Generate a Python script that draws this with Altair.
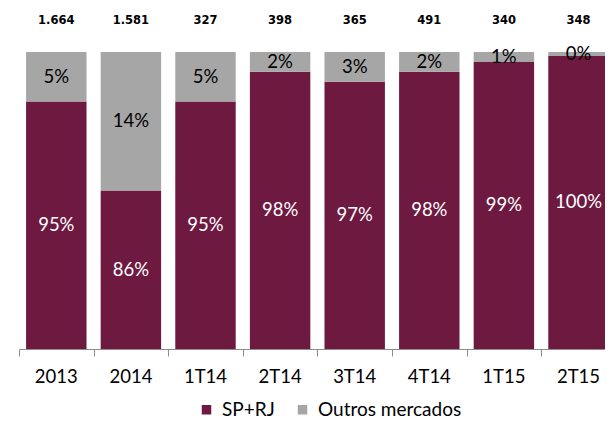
import altair as alt
import pandas as pd

categories = ["2013", "2014", "1T14", "2T14", "3T14", "4T14", "1T15", "2T15"]
sp_rj = [95, 86, 95, 98, 97, 98, 99, 99.6]
outros = [5, 14, 5, 2, 3, 2, 1, 0.4]
totals = ["1.664", "1.581", "327", "398", "365", "491", "340", "348"]
series = ["SP+RJ", "Outros mercados"]
colors = ["#6E1940", "#A6A6A6"]

BASE = 70
GAP = 0.095  # half of the gap between bars, as a share of one category slot
rows = []
for i, (c, a, b, t) in enumerate(zip(categories, sp_rj, outros, totals)):
    rows.append({"idx": i, "cat": c, "serie": series[0], "y0": BASE, "y1": a, "val": a,
                 "mid": (BASE + a) / 2, "total": t})
    rows.append({"idx": i, "cat": c, "serie": series[1], "y0": a, "y1": 100, "val": b,
                 "mid": (a + 100) / 2, "total": t})
df = pd.DataFrame(rows)
df["label"] = df["val"].round(0).astype(int).astype(str) + "%"

PLOT_W = 586
STEP = 74.6
xscale = alt.Scale(domain=[0, PLOT_W / STEP], nice=False, zero=False)
yscale = alt.Scale(domain=[BASE, 100], zero=False, nice=False)
tick_vals = list(range(len(categories)))

base = alt.Chart(df).transform_calculate(
    xa=f"datum.idx + {GAP}", xb=f"datum.idx + 1 - {GAP}", xc="datum.idx + 0.5"
)

bars = base.mark_bar(clip=True).encode(
    x=alt.X("xa:Q", scale=xscale, title=None,
            axis=alt.Axis(values=tick_vals, labels=False, grid=False,
                          domainColor="#8C8C8C", tickColor="#8C8C8C", tickSize=7,
                          domainWidth=1, tickWidth=1)),
    x2="xb:Q",
    y=alt.Y("y1:Q", scale=yscale, axis=None),
    y2="y0:Q",
    color=alt.Color("serie:N", scale=alt.Scale(domain=series, range=colors),
                    legend=alt.Legend(title=None, orient="none", direction="horizontal",
                                      legendX=178, legendY=348, symbolType="square",
                                      symbolSize=90, symbolStrokeWidth=0,
                                      labelFont="Lato", labelFontSize=19,
                                      labelColor="#000000", labelOffset=6,
                                      columnPadding=18)),
)

pct = base.mark_text(font="Lato", fontSize=18.5, baseline="middle").encode(
    x=alt.X("xc:Q", scale=xscale),
    y=alt.Y("mid:Q", scale=yscale),
    text="label:N",
    color=alt.Color("serie:N", scale=alt.Scale(domain=series, range=["#FFFFFF", "#000000"]),
                    legend=None),
)

first = base.transform_filter(alt.datum.serie == series[0])

tot = first.mark_text(
    font="DejaVu Sans", fontWeight="bold", fontSize=11.5, baseline="middle",
    dy=-31.5, color="#000000"
).encode(
    x=alt.X("xc:Q", scale=xscale),
    y=alt.datum(100),
    text="total:N",
)

cat_labels = first.mark_text(
    font="Lato", fontSize=18.5, baseline="middle", dy=28, color="#000000"
).encode(
    x=alt.X("xc:Q", scale=xscale),
    y=alt.datum(BASE),
    text="cat:N",
)

chart = alt.layer(bars, pct, tot, cat_labels).resolve_scale(color="independent").properties(
    width=PLOT_W, height=297,
    autosize=alt.AutoSizeParams(type="none"),
    padding={"left": 11, "top": 44, "right": 0, "bottom": 72},
).configure_view(stroke=None)

chart.save("out.html", embed_options={"renderer": "svg", "actions": False})
